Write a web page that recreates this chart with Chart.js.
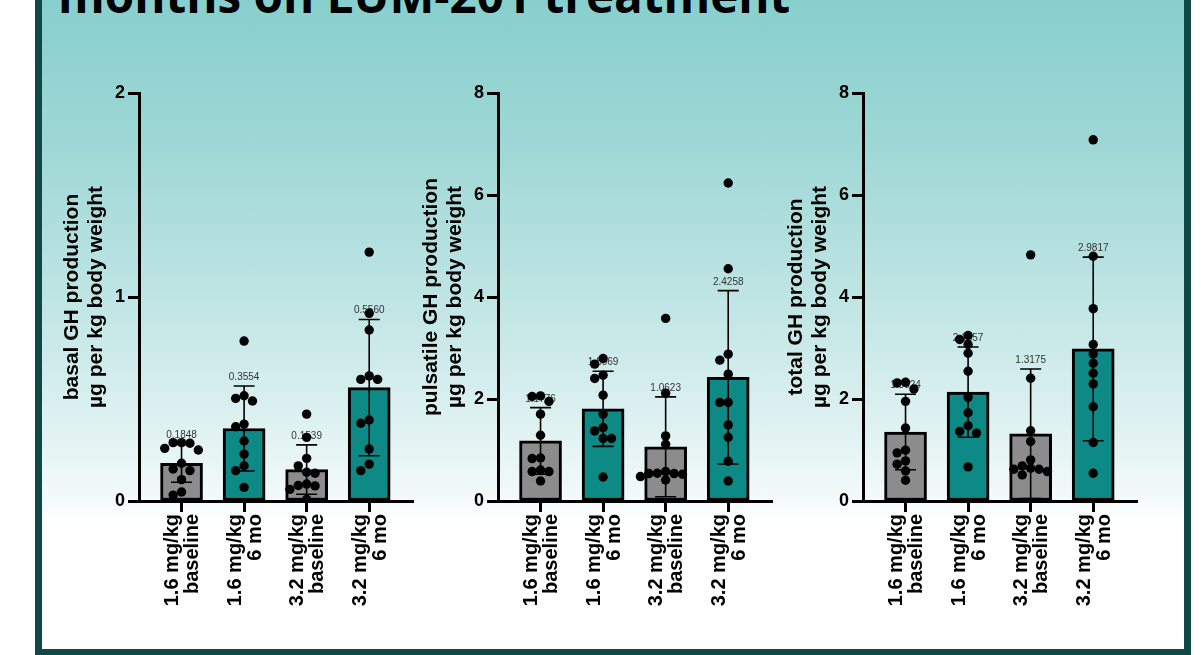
<!DOCTYPE html>
<html>
<head>
<meta charset="utf-8">
<script src="https://cdn.jsdelivr.net/npm/chart.js@4.4.1/dist/chart.umd.min.js"></script>
<style>
  html, body { margin: 0; padding: 0; background: #ffffff; }
  body { width: 1201px; height: 655px; overflow: hidden; position: relative; }
  #frame {
    position: absolute; left: 35px; top: 0; width: 1142px; height: 649px;
    border-left: 7px solid #0f4846; border-right: 7px solid #0f4846; border-bottom: 6px solid #0f4846;
    background: linear-gradient(180deg, #87cfcd 0px, #9fd8d6 150px, #bfe5e4 300px, #e0f2f2 430px, #f4fafa 500px, #ffffff 520px, #ffffff 100%);
  }
  #headline {
    position: absolute; left: 58px; top: -29px; white-space: nowrap;
    font-family: 'Open Sans', sans-serif; font-weight: 700; font-size: 47.6px; line-height: 47px; color: #000;
  }
  canvas.panel { position: absolute; top: 60px; }
</style>
</head>
<body>
<div id="frame"></div>
<div id="headline">months on LUM-201 treatment</div>
<canvas id="basal" class="panel" width="390" height="590" style="left:40px"></canvas>
<canvas id="pulsatile" class="panel" width="390" height="590" style="left:399px"></canvas>
<canvas id="total" class="panel" width="390" height="590" style="left:764px"></canvas>
<script>
// Groups on the x axis (dose / visit)
const categories = [
  ['1.6 mg/kg', 'baseline'],
  ['1.6 mg/kg', '6 mo'],
  ['3.2 mg/kg', 'baseline'],
  ['3.2 mg/kg', '6 mo']
];
const barColors = ['#8c8c8c', '#0d8a86', '#8c8c8c', '#0d8a86'];

// Basal GH production (µg/kg)
const basalMeans = [0.1848, 0.3554, 0.1539, 0.5560];
const basalSD = [0.093, 0.208, 0.121, 0.334];
const basalPoints = [
  [0.286, 0.283, 0.286, 0.258, 0.250, 0.185, 0.157, 0.149, 0.105, 0.044, 0.029],
  [0.784, 0.503, 0.516, 0.490, 0.377, 0.364, 0.294, 0.230, 0.173, 0.149, 0.067],
  [0.426, 0.312, 0.209, 0.172, 0.136, 0.141, 0.083, 0.076, 0.074, 0.057, 0.008],
  [1.220, 0.920, 0.838, 0.613, 0.596, 0.596, 0.397, 0.381, 0.255, 0.181, 0.149]
];

// Pulsatile GH production (µg/kg)
const pulsatileMeans = [1.1776, 1.8069, 1.0623, 2.4258];
const pulsatileSD = [0.653, 0.736, 0.980, 1.700];
const pulsatilePoints = [
  [1.951, 2.049, 2.061, 1.702, 1.290, 0.832, 0.844, 0.608, 0.577, 0.577, 0.393],
  [2.683, 2.795, 2.402, 2.467, 2.075, 1.702, 1.440, 1.374, 1.225, 1.225, 0.471],
  [3.580, 2.114, 1.276, 1.113, 0.479, 0.544, 0.524, 0.538, 0.577, 0.538, 0.412],
  [6.235, 4.554, 2.879, 2.762, 2.487, 1.931, 1.931, 1.492, 1.250, 0.779, 0.393]
];

// Total GH production (µg/kg)
const totalMeans = [1.3524, 2.1357, 1.3175, 2.9817];
const totalSD = [0.740, 0.885, 1.270, 1.800];
const totalPoints = [
  [2.327, 2.315, 2.197, 1.954, 1.430, 0.997, 0.944, 0.787, 0.722, 0.590, 0.407],
  [3.246, 3.167, 3.069, 2.898, 2.544, 2.033, 1.731, 1.476, 1.364, 1.331, 0.669],
  [4.826, 2.406, 1.377, 1.167, 0.807, 0.689, 0.643, 0.623, 0.623, 0.577, 0.512],
  [7.082, 4.800, 3.771, 3.069, 2.886, 2.701, 2.504, 2.296, 1.849, 1.147, 0.545]
];

const basalTicks = [0, 1, 2];
const productionTicks = [0, 2, 4, 6, 8];

Chart.defaults.font.family = "'Liberation Sans', Arial, Helvetica, sans-serif";
Chart.defaults.color = '#000';

// mean ± SD whiskers with the mean printed above each one
function errorBarPlugin(means, sds) {
  return {
    id: 'errorBars',
    afterDatasetDraw(chart, args) {
      if (args.index !== 0) return;
      const { ctx, scales: { x, y } } = chart;
      ctx.save();
      ctx.strokeStyle = '#000';
      ctx.lineWidth = 1.6;
      means.forEach((m, i) => {
        const px = x.getPixelForValue(i);
        const top = y.getPixelForValue(m + sds[i]);
        const bot = y.getPixelForValue(Math.max(0, m - sds[i]));
        ctx.beginPath();
        ctx.moveTo(px, top); ctx.lineTo(px, bot);
        ctx.moveTo(px - 10.5, top); ctx.lineTo(px + 10.5, top);
        ctx.moveTo(px - 10.5, bot); ctx.lineTo(px + 10.5, bot);
        ctx.stroke();
        ctx.fillStyle = '#333';
        ctx.font = "10px 'Liberation Sans', Arial, sans-serif";
        ctx.textAlign = 'center';
        ctx.textBaseline = 'alphabetic';
        ctx.fillText(m.toFixed(4), px, top - 6);
      });
      ctx.restore();
    }
  };
}

// spread overlapping dots sideways (beeswarm), working in pixels
function swarm(values, yScale, pxPerUnit) {
  const step = 8.4, gap = 8.2;
  const placed = [];
  const out = new Array(values.length).fill(0);
  const order = values.map((v, i) => i).sort((a, b) => values[b] - values[a]);
  for (const i of order) {
    const py = yScale.getPixelForValue(values[i]);
    for (let k = 0; k < 30; k++) {
      const dx = k === 0 ? 0 : Math.ceil(k / 2) * step * (k % 2 ? -1 : 1);
      if (placed.every(p => Math.hypot(p.x - dx, p.y - py) >= gap)) {
        placed.push({ x: dx, y: py });
        out[i] = dx / pxPerUnit;
        break;
      }
    }
  }
  return out;
}

function axisGrid() {
  return { offset: false, drawOnChartArea: false, drawTicks: true, tickLength: 11, tickWidth: 3, tickColor: '#000', color: '#000' };
}

function makePanel(canvasId, titleLines, means, sds, points, yTicks) {
  const scatterData = [];
  points.forEach((grp, i) => grp.forEach(v => scatterData.push({ x: i, y: v })));

  const chart = new Chart(document.getElementById(canvasId), {
    type: 'bar',
    data: {
      datasets: [
        {
          type: 'bar',
          order: 1,
          data: means.map((m, i) => ({ x: i, y: m })),
          backgroundColor: barColors,
          borderColor: '#000',
          borderWidth: 3,
          borderSkipped: false,
          barThickness: 42
        },
        {
          type: 'scatter',
          order: 0,
          data: scatterData,
          pointRadius: 4.7,
          pointHoverRadius: 4.7,
          pointBackgroundColor: '#000',
          pointBorderWidth: 0,
          showLine: false
        }
      ]
    },
    options: {
      responsive: false,
      animation: false,
      layout: { padding: { top: 33, right: 17, left: 0, bottom: 0 } },
      plugins: { legend: { display: false }, tooltip: { enabled: false } },
      scales: {
        x: {
          type: 'linear',
          offset: false,
          min: -0.68,
          max: 3.7,
          afterBuildTicks: s => { s.ticks = categories.map((c, i) => ({ value: i })); },
          afterFit: s => { s.height = 149; },
          ticks: {
            autoSkip: false, minRotation: 90, maxRotation: 90, padding: 2, labelOffset: -9, color: '#000',
            font: { size: 20, weight: 'bold', lineHeight: 1 },
            callback: v => categories[v]
          },
          grid: axisGrid(),
          border: { display: true, color: '#000', width: 3 }
        },
        y: {
          min: yTicks[0],
          max: yTicks[yTicks.length - 1],
          afterBuildTicks: s => { s.ticks = yTicks.map(v => ({ value: v })); },
          afterFit: s => { s.width = 99; },
          ticks: { padding: 3, color: '#000', font: { size: 18, weight: 'bold' } },
          title: {
            display: true, text: titleLines, color: '#000',
            font: { size: 21, weight: 'bold', lineHeight: 1.15 },
            padding: { top: 20, bottom: 0 }
          },
          grid: axisGrid(),
          border: { display: true, color: '#000', width: 3 }
        }
      }
    },
    plugins: [errorBarPlugin(means, sds)]
  });

  // once the scales exist, lay the dots out as a swarm around each bar
  const xs = chart.scales.x, ys = chart.scales.y;
  const pxPerUnit = Math.abs(xs.getPixelForValue(1) - xs.getPixelForValue(0));
  const swarmed = [];
  points.forEach((grp, i) => {
    const offs = swarm(grp, ys, pxPerUnit);
    grp.forEach((v, j) => swarmed.push({ x: i + offs[j], y: v }));
  });
  chart.data.datasets[1].data = swarmed;
  chart.update('none');
  return chart;
}

makePanel('basal', ['basal GH production', 'µg per kg body weight'], basalMeans, basalSD, basalPoints, basalTicks);
makePanel('pulsatile', ['pulsatile GH production', 'µg per kg body weight'], pulsatileMeans, pulsatileSD, pulsatilePoints, productionTicks);
makePanel('total', ['total GH production', 'µg per kg body weight'], totalMeans, totalSD, totalPoints, productionTicks);
</script>
</body>
</html>
